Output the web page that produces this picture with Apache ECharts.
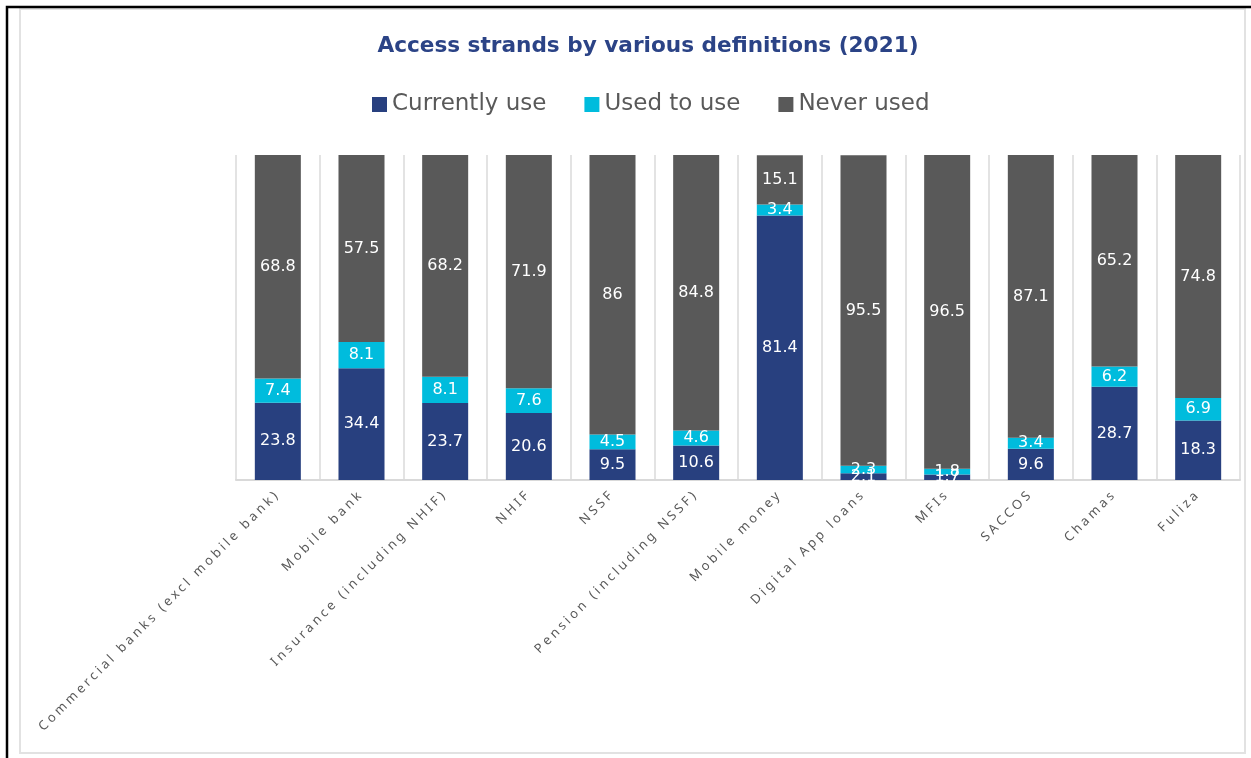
<!DOCTYPE html>
<html>
<head>
<meta charset="utf-8">
<script src="https://cdn.jsdelivr.net/npm/echarts@6/dist/echarts.min.js"></script>
<style>
html,body{margin:0;padding:0;background:#fff;}
#chart{width:1251px;height:758px;}
</style>
</head>
<body>
<div id="chart"></div>
<script>
// Wide letter spacing for the axis labels (font family "Noto Sans" is used only there)
(function(){
  var P = CanvasRenderingContext2D.prototype;
  var origFill = P.fillText, origMeasure = P.measureText;
  function setLS(ctx){
    if ('letterSpacing' in ctx) ctx.letterSpacing = /Noto Sans/.test(ctx.font) ? '3.1px' : '0px';
  }
  P.fillText = function(t,x,y,w){ setLS(this); return w===undefined ? origFill.call(this,t,x,y) : origFill.call(this,t,x,y,w); };
  P.measureText = function(t){ setLS(this); return origMeasure.call(this,t); };
})();

var categories = ['Commercial banks (excl mobile bank)','Mobile bank','Insurance (including NHIF)','NHIF','NSSF','Pension (including NSSF)','Mobile money','Digital App loans','MFIs','SACCOS','Chamas','Fuliza'];
var currentlyUse = [23.8, 34.4, 23.7, 20.6, 9.5, 10.6, 81.4, 2.1, 1.7, 9.6, 28.7, 18.3];
var usedToUse    = [7.4, 8.1, 8.1, 7.6, 4.5, 4.6, 3.4, 2.3, 1.8, 3.4, 6.2, 6.9];
var neverUsed    = [68.8, 57.5, 68.2, 71.9, 86, 84.8, 15.1, 95.5, 96.5, 87.1, 65.2, 74.8];

var chart = echarts.init(document.getElementById('chart'), null, {renderer:'canvas'});
var labelStyle = {show:true, position:'inside', color:'#ffffff', fontFamily:'DejaVu Sans', fontSize:16};
function mk(name, data, color){
  return {name:name, type:'bar', stack:'a', data:data, barWidth:'55%',
    itemStyle:{color:color}, label:labelStyle, emphasis:{disabled:true}};
}
chart.setOption({
  animation:false,
  title:{text:'Access strands by various definitions (2021)', left:643, textAlign:'center', top:30,
    textStyle:{color:'#2B4386', fontFamily:'DejaVu Sans', fontWeight:'bold', fontSize:21.6}},
  legend:{top:88, left:367, itemWidth:15, itemHeight:15, itemGap:38, icon:'rect',
    textStyle:{color:'#595959', fontFamily:'DejaVu Sans', fontSize:23},
    data:['Currently use','Used to use','Never used']},
  grid:{left:236, right:11, top:155, bottom:278, containLabel:false},
  xAxis:{type:'category', data:categories,
    axisLine:{lineStyle:{color:'#d9d9d9', width:2}},
    axisTick:{show:false},
    splitLine:{show:true, lineStyle:{color:'#e3e3e3', width:2}},
    axisLabel:{interval:0, rotate:45, color:'#595959', fontFamily:'Noto Sans', fontSize:13, margin:12}},
  yAxis:{type:'value', min:0, max:100, show:false, splitLine:{show:false}},
  series:[mk('Currently use', currentlyUse, '#28407F'), mk('Used to use', usedToUse, '#00BCDD'), mk('Never used', neverUsed, '#595959')],
  graphic:[
    {type:'rect', shape:{x:20, y:9, width:1225, height:744}, style:{fill:null, stroke:'#e2e2e2', lineWidth:2}, silent:true},
    {type:'polyline', shape:{points:[[7,758],[7,7],[1251,7]]}, style:{stroke:'#000', lineWidth:2.5, fill:null}, silent:true}
  ]
});
</script>
</body>
</html>
